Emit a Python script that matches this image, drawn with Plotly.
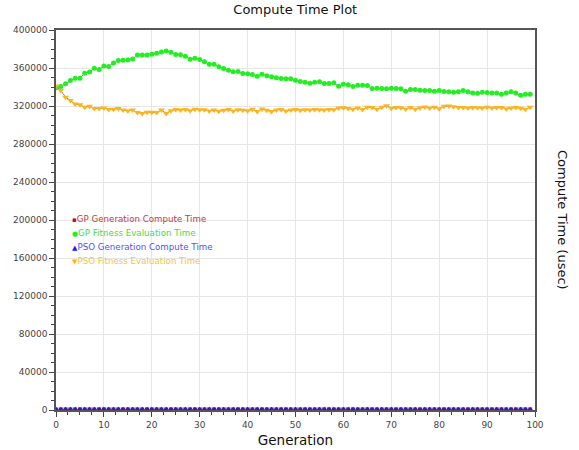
import plotly.graph_objects as go

generations = list(range(100))

gp_fitness_time = [
    339100, 340500, 343300, 346800, 349200, 349200, 354500, 355900, 359700, 358300,
    362200, 361500, 365300, 367800, 368100, 368500, 369500, 373700, 373700, 373700,
    374400, 375500, 376900, 377900, 376500, 374300, 374000, 372400, 369200, 370300,
    369000, 366500, 364000, 364000, 361300, 359500, 357700, 356000, 356300, 354200,
    353900, 353200, 351400, 353500, 351800, 350700, 349700, 348900, 348600, 348600,
    347200, 345800, 345000, 344000, 345000, 345500, 343700, 343700, 344400, 340800,
    342900, 342300, 340500, 341900, 341900, 341600, 338400, 338700, 338400, 338100,
    338700, 338400, 338100, 335600, 337400, 337400, 336600, 336300, 336300, 335600,
    336300, 335200, 334900, 334500, 334900, 336300, 334900, 333800, 333400, 334500,
    334200, 333800, 333800, 332400, 333800, 334900, 333800, 331300, 332400, 332400,
]

pso_fitness_time = [
    341000, 336300, 329300, 325800, 322000, 321200, 318800, 319800, 317400, 317400,
    317800, 316400, 316700, 317400, 315700, 315000, 315700, 313200, 312200, 313500,
    313500, 313200, 315700, 312200, 315000, 316400, 315700, 316400, 315000, 316700,
    316000, 316000, 314800, 315700, 314500, 315500, 316300, 314700, 316000, 315600,
    315000, 316500, 314300, 316800, 315400, 314200, 315800, 316400, 314800, 315900,
    316300, 315600, 316000, 315800, 316200, 316000, 315700, 316400, 316100, 317900,
    318200, 317500, 316600, 317800, 316300, 318600, 318400, 316500, 318800, 320300,
    317600, 318300, 318100, 316900, 318500, 316600, 318200, 318900, 317800, 318700,
    317200, 319800, 320000, 319200, 318500, 318300, 318000, 318400, 318200, 317900,
    318600, 317800, 318300, 318400, 317200, 318000, 318300, 317700, 316500, 318700,
]

gp_generation_time = [
    620, 580, 610, 600, 590, 630, 600, 610, 590, 600,
    610, 600, 580, 620, 600, 590, 600, 610, 600, 590,
    600, 620, 600, 590, 610, 600, 600, 580, 610, 600,
    590, 600, 610, 600, 620, 600, 590, 600, 610, 600,
    600, 590, 610, 600, 600, 620, 590, 600, 610, 600,
    580, 600, 610, 600, 590, 600, 620, 600, 610, 590,
    600, 600, 610, 590, 600, 620, 600, 590, 600, 610,
    600, 590, 600, 610, 620, 600, 590, 600, 600, 610,
    590, 600, 620, 600, 610, 590, 600, 600, 610, 600,
    590, 600, 610, 620, 600, 590, 600, 610, 600, 590,
]

pso_generation_time = [
    310, 290, 300, 305, 295, 300, 310, 300, 290, 300,
    305, 300, 295, 300, 310, 300, 290, 305, 300, 295,
    300, 310, 300, 290, 300, 305, 300, 295, 300, 310,
    300, 290, 305, 300, 295, 300, 310, 300, 290, 300,
    305, 300, 295, 300, 310, 300, 290, 305, 300, 295,
    300, 310, 300, 290, 300, 305, 300, 295, 300, 310,
    300, 290, 305, 300, 295, 300, 310, 300, 290, 300,
    305, 300, 295, 300, 310, 300, 290, 305, 300, 295,
    300, 310, 300, 290, 300, 305, 300, 295, 300, 310,
    300, 290, 305, 300, 295, 300, 310, 300, 290, 300,
]

series_names = [
    "GP Generation Compute Time",
    "GP Fitness Evaluation Time",
    "PSO Generation Compute Time",
    "PSO Fitness Evaluation Time",
]

FONT = "DejaVu Sans"
line_color = "#8a8a8a"

series_styles = [
    dict(y=gp_generation_time, symbol="square", size=4, marker_color="#b01818",
         text_color="#c8393b", glyph="\u25aa"),
    dict(y=gp_fitness_time, symbol="circle", size=5, marker_color="#22ee22",
         text_color="#44dd44", glyph="\u25cf"),
    dict(y=pso_generation_time, symbol="triangle-up", size=6, marker_color="#1a1aff",
         text_color="#5050ff", glyph="\u25b2"),
    dict(y=pso_fitness_time, symbol="triangle-down", size=6, marker_color="#ffb41c",
         text_color="#ffc030", glyph="\u25bc"),
]

fig = go.Figure()

for name, st in zip(series_names, series_styles):
    fig.add_trace(go.Scatter(
        x=generations, y=st["y"], mode="lines+markers", name=name,
        line=dict(color=line_color, width=1),
        marker=dict(symbol=st["symbol"], size=st["size"], color=st["marker_color"]),
        showlegend=False,
    ))

# legend drawn inside the plot, as in the reference
legend_annotations = []
for i, (name, st) in enumerate(zip(series_names, series_styles)):
    legend_annotations.append(dict(
        text=(f"<span style='color:{st['marker_color']};font-size:7px'>{st['glyph']}</span>"
              f"<span style='color:{st['text_color']}'>{name}</span>"),
        xref="paper", yref="paper", x=0.0, y=0.5, xshift=14, yshift=1 - i * 14,
        xanchor="left", yanchor="middle", showarrow=False,
        font=dict(family=FONT, size=8.7, color=st["text_color"]),
    ))

axis_common = dict(
    showgrid=True, gridcolor="#e6e6e6", gridwidth=1,
    showline=True, linecolor="#555555", linewidth=1.5, mirror=True,
    ticks="outside", ticklen=5, tickcolor="#444444",
    tickfont=dict(family=FONT, size=9, color="#444444"),
    zeroline=False,
)

fig.update_layout(
    width=579, height=450,
    margin=dict(l=56, r=44, t=30, b=40, autoexpand=False),
    paper_bgcolor="white", plot_bgcolor="white",
    font=dict(family=FONT, size=9, color="#444444"),
    title=dict(text="Compute Time Plot", x=0.51, xanchor="center", y=0.978, yanchor="middle",
               font=dict(family=FONT, size=13, color="#111111")),
    showlegend=False,
    xaxis=dict(
        range=[0, 100], dtick=10,
        title=dict(text="Generation", font=dict(family=FONT, size=13.5, color="#111111"), standoff=7),
        minor=dict(dtick=2.5, ticks="outside", ticklen=3, tickcolor="#444444", showgrid=False),
        **axis_common,
    ),
    yaxis=dict(
        range=[0, 400000], dtick=40000, tickformat="d",
        minor=dict(dtick=10000, ticks="outside", ticklen=3, tickcolor="#444444", showgrid=False),
        **axis_common,
    ),
    annotations=legend_annotations + [dict(
        text="Compute Time (usec)", textangle=90,
        xref="paper", yref="paper", x=1.0, y=0.5, xshift=28,
        xanchor="center", yanchor="middle", showarrow=False,
        font=dict(family=FONT, size=13, color="#111111"),
    )],
)

fig.write_html("out.html", config={"displayModeBar": False},
               post_script="document.body.style.margin='0px';")
